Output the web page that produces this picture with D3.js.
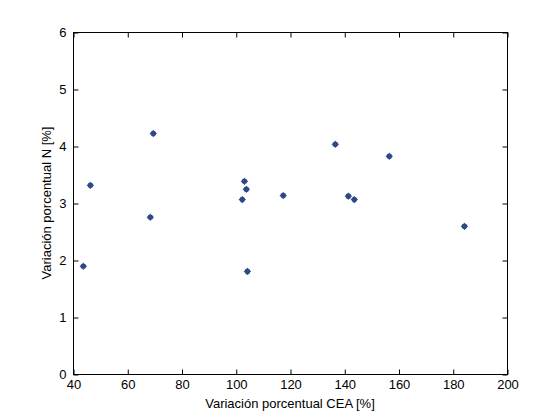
<!DOCTYPE html>
<html>
<head>
<meta charset="utf-8">
<script src="https://d3js.org/d3.v7.min.js"></script>
<style>
  body { margin: 0; background: #fff; }
  svg text { font-family: "Liberation Sans", Arial, sans-serif; font-size: 13px; fill: #000; }
</style>
</head>
<body>
<svg width="560" height="420"></svg>
<script>
// data
var cea = [43.8, 46.4, 68.5, 69.6, 102.4, 103.2, 103.9, 104.3, 117.5, 136.7, 141.5, 143.7, 156.6, 184.3];
var nVar = [1.89, 3.31, 2.75, 4.22, 3.06, 3.38, 3.24, 1.80, 3.13, 4.03, 3.12, 3.06, 3.82, 2.59];
var xTicks = [40, 60, 80, 100, 120, 140, 160, 180, 200];
var yTicks = [0, 1, 2, 3, 4, 5, 6];

var svg = d3.select("svg");
var plotL = 73, plotR = 507, plotT = 32, plotB = 374;

var x = d3.scaleLinear().domain([40, 200]).range([plotL, plotR]);
var y = d3.scaleLinear().domain([0, 6]).range([plotB, plotT]);

//box
svg.append("rect")
    .attr("x", plotL + 0.5).attr("y", plotT + 0.5)
    .attr("width", plotR - plotL).attr("height", plotB - plotT)
    .attr("fill", "none").attr("stroke", "#000");

//axes, ticks inward, mirrored on top/right
function styleAxis(g) {
  g.select(".domain").remove();
  g.selectAll("line").attr("stroke", "#000");
}
svg.append("g").attr("transform", "translate(0.5," + (plotB + 0.5) + ")")
    .call(d3.axisBottom(x).tickValues(xTicks).tickSize(-5).tickPadding(5).tickFormat(d3.format("d")))
    .call(styleAxis);
svg.append("g").attr("transform", "translate(0.5," + (plotT + 0.5) + ")")
    .call(d3.axisTop(x).tickValues(xTicks).tickSize(-5).tickFormat(""))
    .call(styleAxis);
svg.append("g").attr("transform", "translate(" + (plotL + 0.5) + ",0.5)")
    .call(d3.axisLeft(y).tickValues(yTicks).tickSize(-5).tickPadding(7).tickFormat(d3.format("d")))
    .call(styleAxis);
svg.append("g").attr("transform", "translate(" + (plotR + 0.5) + ",0.5)")
    .call(d3.axisRight(y).tickValues(yTicks).tickSize(-5).tickFormat(""))
    .call(styleAxis);
svg.selectAll(".tick text").attr("font-family", null).attr("font-size", null);

//labels
svg.append("text")
    .attr("x", (plotL + plotR) / 2).attr("y", 408)
    .attr("text-anchor", "middle")
    .text("Variación porcentual CEA [%]");
svg.append("text")
    .attr("transform", "translate(51," + ((plotT + plotB) / 2) + ") rotate(-90)")
    .attr("text-anchor", "middle")
    .text("Variación porcentual N [%]");

//points, drawn like matlab '*' markers
var pts = svg.append("g").selectAll("g")
    .data(cea.map(function(d, i) { return [d, nVar[i]]; }))
    .enter().append("g")
    .attr("transform", function(d) { return "translate(" + x(d[0]) + "," + y(d[1]) + ")"; });

var col = "#2e4a86";
pts.append("circle").attr("r", 2.8).attr("fill", col);
pts.append("path")
    .attr("d", "M-3.5,0H3.5M0,-3.5V3.5")
    .attr("stroke", col).attr("stroke-width", 1);
</script>
</body>
</html>
